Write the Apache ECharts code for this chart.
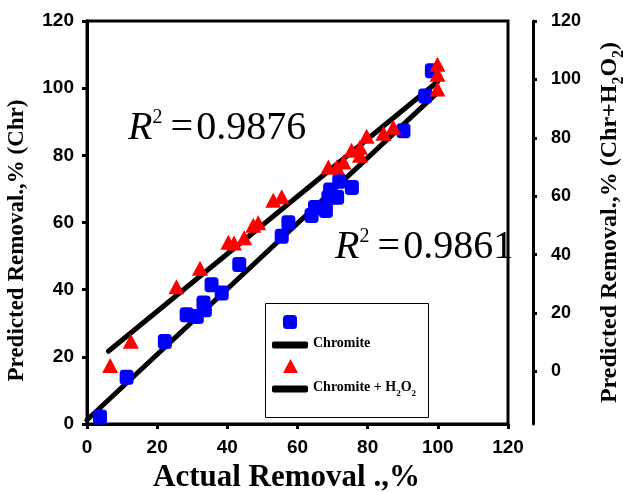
<!DOCTYPE html>
<html>
<head>
<meta charset="utf-8">
<script src="https://cdn.jsdelivr.net/npm/echarts@6/dist/echarts.min.js"></script>
<style>
html,body{margin:0;padding:0;background:#fff;}
#chart{width:623px;height:492px;}
</style>
</head>
<body>
<div id="chart"></div>
<script>
// ---- data ----
const xTicks = [0, 20, 40, 60, 80, 100, 120];
const leftTicks = [0, 20, 40, 60, 80, 100, 120];
const rightTicks = [0, 20, 40, 60, 80, 100, 120];

// Chromite (blue squares, left axis)
const blueX = [3.7, 11.3, 22.2, 28.4, 31.3, 33.2, 33.6, 35.5, 38.4, 43.4, 55.5, 57.4, 64.0, 65.0, 68.1, 68.8, 69.3, 71.3, 71.9, 75.5, 90.2, 96.4, 98.3];
const blueY = [2.1, 13.9, 24.6, 32.5, 32.0, 36.0, 34.0, 41.5, 39.0, 47.5, 55.9, 59.9, 62.1, 64.5, 63.6, 67.4, 69.7, 67.5, 72.3, 70.4, 87.3, 97.7, 105.2];

// Chromite + H2O2 (red triangles, right axis)
const redX = [6.6, 12.5, 25.5, 32.2, 40.3, 41.9, 44.8, 47.4, 48.8, 53.1, 55.5, 68.8, 71.2, 73.1, 75.4, 77.8, 77.8, 79.7, 84.5, 87.3, 99.9, 99.9, 99.9];
const redY = [2.0, 10.3, 29.0, 35.3, 44.2, 44.0, 45.8, 50.1, 50.9, 58.6, 59.8, 70.0, 70.0, 71.7, 75.7, 76.8, 74.0, 80.5, 81.6, 83.6, 96.7, 101.8, 105.2];

// fitted lines (end points)
const blueFitX = [0, 99.5];
const blueFitY = [1.2, 98.3];
const redFitX = [6.1, 100];
const redFitY = [6.9, 99.3];

const r2Chr = '0.9861';
const r2ChrH = '0.9876';

const zip = (a, b) => a.map((v, i) => [v, b[i]]);

const SERIF = 'Liberation Serif';
const SANS = 'Liberation Sans';

const chart = echarts.init(document.getElementById('chart'), null, {renderer: 'canvas'});

const axisLine = {show: true, lineStyle: {color: '#000', width: 3}};
const axisTick = {show: true, length: 5, lineStyle: {color: '#000', width: 3}};
const tickLabel = {color: '#000', fontFamily: SANS, fontWeight: 'bold', fontSize: 19};

const legendRich = {
  n: {fontFamily: SERIF, fontWeight: 'bold', fontSize: 14, color: '#000', lineHeight: 18, verticalAlign: 'top'},
  s: {fontFamily: SERIF, fontWeight: 'bold', fontSize: 9, color: '#000', lineHeight: 18, verticalAlign: 'bottom'}
};
function nameRich(fs) {
  return {
    n: {fontFamily: SERIF, fontWeight: 'bold', fontSize: fs, color: '#000', lineHeight: fs + 5, verticalAlign: 'top'},
    s: {fontFamily: SERIF, fontWeight: 'bold', fontSize: Math.round(fs * 0.65), color: '#000', lineHeight: fs + 5, verticalAlign: 'bottom'}
  };
}
const r2Rich = {
  r: {fontFamily: SERIF, fontStyle: 'italic', fontSize: 40, color: '#000', lineHeight: 44, verticalAlign: 'top'},
  p: {fontFamily: SERIF, fontSize: 20, color: '#000', lineHeight: 20, verticalAlign: 'top'},
  n: {fontFamily: SERIF, fontSize: 40, color: '#000', lineHeight: 44, verticalAlign: 'top'}
};

const option = {
  backgroundColor: '#fff',
  animation: false,
  grid: {left: 87, right: 115, top: 21, bottom: 68, show: true, borderColor: '#000', borderWidth: 3, backgroundColor: 'transparent', outerBoundsMode: 'none'},
  xAxis: {
    type: 'value', min: xTicks[0], max: xTicks[xTicks.length - 1], interval: 20,
    axisLine, axisTick, splitLine: {show: false},
    axisLabel: Object.assign({margin: 14}, tickLabel),
    name: 'Actual Removal .,%', nameLocation: 'middle', nameGap: 38,
    nameTextStyle: {fontFamily: SERIF, fontWeight: 'bold', fontSize: 31, color: '#000', padding: [0, 22, 0, 0]}
  },
  yAxis: [
    {
      type: 'value', position: 'left', min: leftTicks[0], max: leftTicks[leftTicks.length - 1], interval: 20,
      axisLine, axisTick, splitLine: {show: false},
      axisLabel: Object.assign({margin: 13}, tickLabel),
      name: '{n|Predicted Removal.,% (Chr)}', nameLocation: 'middle', nameGap: 53, nameRotate: 90,
      nameTextStyle: {rich: nameRich(23), padding: [0, 36, 0, 0]}
    },
    {
      type: 'value', position: 'right', offset: 25, min: -18, max: 120,
      axisLine, axisTick: Object.assign({}, axisTick, {length: 4, customValues: rightTicks}),
      splitLine: {show: false},
      axisLabel: Object.assign({margin: 18, customValues: rightTicks}, tickLabel, {fontSize: 18}),
      name: '{n|Predicted Removal.,% (Chr+H}{s|2}{n|O}{s|2}{n|)}', nameLocation: 'middle', nameGap: 65, nameRotate: 90,
      nameTextStyle: {rich: nameRich(24)}
    }
  ],
  legend: [
    {data: [{name: 'Chromite data', icon: 'roundRect'}], left: 283, top: 315, padding: 0, itemWidth: 14, itemHeight: 14, formatter: () => '', selectedMode: false},
    {data: [{name: 'Chromite', icon: 'roundRect'}], left: 272, top: 336, padding: 0, itemWidth: 36, itemHeight: 7, selectedMode: false,
      formatter: () => '{n|Chromite}', textStyle: {rich: legendRich}},
    {data: [{name: 'Chromite + H2O2 data', icon: 'triangle'}], left: 283, top: 359, padding: 0, itemWidth: 15, itemHeight: 14, formatter: () => '', selectedMode: false},
    {data: [{name: 'Chromite + H2O2', icon: 'roundRect'}], left: 272, top: 380, padding: 0, itemWidth: 36, itemHeight: 7, selectedMode: false,
      formatter: () => '{n|Chromite + H}{s|2}{n|O}{s|2}', textStyle: {rich: legendRich}}
  ],
  graphic: [
    {type: 'rect', shape: {x: 265.5, y: 303.5, width: 163, height: 114}, style: {fill: 'transparent', stroke: '#000', lineWidth: 1}, z: 1},
    {type: 'text', left: 128, top: 108, z: 10, style: {text: '{r|R}{p|2}{n|\u2009=\u200A' + r2ChrH + '}', rich: r2Rich}},
    {type: 'text', left: 335, top: 227, z: 10, style: {text: '{r|R}{p|2}{n|\u2009=\u200A' + r2Chr + '}', rich: r2Rich}}
  ],
  series: [
    {
      name: 'Chromite', type: 'line', yAxisIndex: 0, data: zip(blueFitX, blueFitY), symbol: 'none', z: 2,
      lineStyle: {color: '#000', width: 5, cap: 'round'}, itemStyle: {color: '#000'}
    },
    {
      name: 'Chromite + H2O2', type: 'line', yAxisIndex: 1, data: zip(redFitX, redFitY), symbol: 'none', z: 2,
      lineStyle: {color: '#000', width: 5, cap: 'round'}, itemStyle: {color: '#000'}
    },
    {
      name: 'Chromite data', type: 'scatter', yAxisIndex: 0, data: zip(blueX, blueY), z: 3,
      symbol: 'roundRect', symbolSize: [14, 15], itemStyle: {color: '#0000FF', opacity: 1}
    },
    {
      name: 'Chromite + H2O2 data', type: 'scatter', yAxisIndex: 1, data: zip(redX, redY), z: 3,
      symbol: 'triangle', symbolSize: [16, 15], itemStyle: {color: '#FF0000', opacity: 1}
    }
  ]
};
chart.setOption(option);
</script>
</body>
</html>
